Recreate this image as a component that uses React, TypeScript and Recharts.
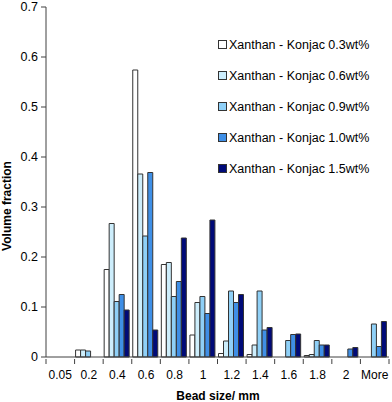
import React from 'react';
import { BarChart, Bar, XAxis, YAxis, Legend } from 'recharts';

const categories = ['0.05', '0.2', '0.4', '0.6', '0.8', '1', '1.2', '1.4', '1.6', '1.8', '2', 'More'];
const konjac03 = [0, 0.014, 0.175, 0.574, 0.185, 0.044, 0.007, 0.005, 0, 0.003, 0, 0];
const konjac06 = [0, 0.014, 0.267, 0.366, 0.189, 0.109, 0.032, 0.024, 0, 0.005, 0, 0];
const konjac09 = [0, 0.012, 0.111, 0.242, 0.121, 0.121, 0.132, 0.132, 0.033, 0.033, 0, 0.066];
const konjac10 = [0, 0, 0.125, 0.369, 0.151, 0.087, 0.109, 0.054, 0.045, 0.024, 0.016, 0.021];
const konjac15 = [0, 0, 0.094, 0.054, 0.238, 0.274, 0.125, 0.059, 0.046, 0.024, 0.019, 0.071];
const yTicks = [0, 0.1, 0.2, 0.3, 0.4, 0.5, 0.6, 0.7];

const series = [
  { key: 'k03', name: 'Xanthan - Konjac 0.3wt%', values: konjac03, color: '#ffffff' },
  { key: 'k06', name: 'Xanthan - Konjac 0.6wt%', values: konjac06, color: '#cdeefc' },
  { key: 'k09', name: 'Xanthan - Konjac 0.9wt%', values: konjac09, color: '#8fd0f7' },
  { key: 'k10', name: 'Xanthan - Konjac 1.0wt%', values: konjac10, color: '#3f8fe6' },
  { key: 'k15', name: 'Xanthan - Konjac 1.5wt%', values: konjac15, color: '#000a78' },
];

const data = categories.map((c, i) => {
  const row: Record<string, string | number> = { size: c };
  series.forEach(s => { row[s.key] = s.values[i]; });
  return row;
});

const FONT = '"Liberation Sans", Arial, sans-serif';
const AXIS = '#404040';
const W = 392;
const H = 402;
const PLOT_W = 343;

// category ticks sit between bins, labels in the middle
const XTick = (props: any) => {
  const { x, y, payload, index } = props;
  const half = PLOT_W / categories.length / 2;
  return (
    <g>
      <line x1={x - half} x2={x - half} y1={y} y2={y + 5} stroke={AXIS} />
      {index === categories.length - 1 && (
        <line x1={x + half} x2={x + half} y1={y} y2={y + 5} stroke={AXIS} />
      )}
      <text x={x} y={y + 20} textAnchor="middle" fontSize={12} fontFamily={FONT} fill="#000">
        {payload.value}
      </text>
    </g>
  );
};

const YTitle = () => (
  <text x={11} y={206} transform="rotate(-90 11 206)" textAnchor="middle"
    fontSize={12} fontWeight="bold" fontFamily={FONT} fill="#000">
    Volume fraction
  </text>
);

const XTitle = () => (
  <text x={218} y={400} textAnchor="middle" fontSize={12} fontWeight="bold" fontFamily={FONT} fill="#000">
    Bead size/ mm
  </text>
);

const renderLegend = () => (
  <div style={{ fontFamily: FONT, fontSize: 12.5, color: '#000' }}>
    {series.map(s => (
      <div key={s.key} style={{ height: 31, display: 'flex', alignItems: 'center' }}>
        <span style={{ width: 7, height: 7, border: '1px solid #333', background: s.color, marginRight: 2, display: 'inline-block' }} />
        <span>{s.name}</span>
      </div>
    ))}
  </div>
);

const App: React.FC = () => {
  return (
    <div style={{ position: 'absolute', left: 0, top: 0, width: W, height: H, background: '#fff' }}>
      <BarChart width={W} height={H} data={data} margin={{ top: 7, right: 3, left: 0, bottom: 0 }}
        barCategoryGap={1} barGap={0}>
        <XAxis dataKey="size" height={45} interval={0} tickSize={0} tickLine={false}
          axisLine={{ stroke: AXIS }} tick={<XTick />} label={<XTitle />} />
        <XAxis xAxisId="top" dataKey="size" orientation="top" height={0} tick={false} tickLine={false}
          axisLine={{ stroke: AXIS }} />
        <YAxis width={46} domain={[0, 0.7]} ticks={yTicks} interval={0} tickSize={5} tickMargin={3}
          axisLine={{ stroke: AXIS }} tickLine={{ stroke: AXIS }}
          tick={{ fontSize: 12.5, fontFamily: FONT, fill: '#000' }} label={<YTitle />} />
        <YAxis yAxisId="right" orientation="right" width={0} domain={[0, 0.7]} tick={false} tickLine={false}
          axisLine={{ stroke: AXIS }} />
        <Legend content={renderLegend} layout="vertical" align="center" verticalAlign="middle"
          wrapperStyle={{ left: 218, top: 29, width: 170 }} />
        {series.map(s => (
          <Bar key={s.key} dataKey={s.key} name={s.name} fill={s.color} stroke="#333" strokeWidth={1}
            isAnimationActive={false} />
        ))}
      </BarChart>
    </div>
  );
};

export default App;
